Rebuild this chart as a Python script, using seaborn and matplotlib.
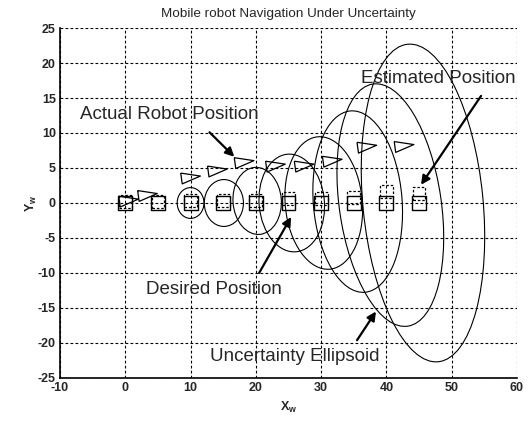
import numpy as np
import matplotlib
matplotlib.use("Agg")
import matplotlib.pyplot as plt
import seaborn as sns
import pandas as pd
from matplotlib.patches import Ellipse

# desired positions (solid squares)
desired_x = [0, 5, 10, 15, 20, 25, 30, 35, 40, 45]
desired_y = [0, 0, 0, 0, 0, 0, 0, 0, 0, 0]

# estimated positions (dashed squares)
est_x = [0, 5, 10, 15, 20, 25, 30, 35, 40, 45]
est_y = [0.2, 0.2, 0.3, 0.3, 0.4, 0.6, 0.6, 0.8, 1.6, 1.4]

# actual robot positions (triangles)
act_x = [0.5, 3.4, 10.0, 14.1, 18.2, 23.0, 27.4, 31.7, 37.0, 42.7]
act_y = [0.2, 1.0, 3.5, 4.5, 5.7, 5.2, 5.2, 5.9, 7.9, 8.0]

# uncertainty ellipses: centre, full width, full height, tilt (deg)
ell_x = [10.0, 15.1, 20.2, 25.5, 30.4, 35.6, 40.6, 45.6]
ell_y = [0.0, 0.0, 0.3, 0.0, 0.0, 0.2, -0.3, 0.0]
ell_w = [4.1, 6.0, 7.4, 10.0, 11.8, 13.6, 15.6, 18.4]
ell_h = [4.4, 6.7, 9.6, 14.0, 19.0, 26.0, 35.0, 45.6]
ell_ang = [0, 0, 5, 6, 6, 5, 9, 6]

sns.set_style("white")
plt.rcParams['font.family'] = ['Liberation Sans', 'DejaVu Sans']
plt.rcParams['axes.unicode_minus'] = False

fig = plt.figure(figsize=(5.31, 4.23), dpi=100)
ax = fig.add_axes([0.113, 0.1064, 0.8606, 0.8274])

grid_ls = (0, (2.5, 2))
for gx in range(-10, 61, 10):
    ax.axvline(gx, color='black', lw=0.8, ls=grid_ls, zorder=0)
for gy in range(-25, 26, 5):
    ax.axhline(gy, color='black', lw=0.8, ls=grid_ls, zorder=0)

for cx, cy, w, h, a in zip(ell_x, ell_y, ell_w, ell_h, ell_ang):
    ax.add_patch(Ellipse((cx, cy), w, h, angle=a, fill=False,
                         edgecolor='black', lw=0.8, zorder=2))

df_des = pd.DataFrame({'x': desired_x, 'y': desired_y})
df_est = pd.DataFrame({'x': est_x, 'y': est_y})
df_act = pd.DataFrame({'x': act_x, 'y': act_y})

sns.scatterplot(data=df_des, x='x', y='y', marker='s', s=100,
                facecolor='none', edgecolor='black', linewidth=1.0,
                ax=ax, zorder=3)
sns.scatterplot(data=df_est, x='x', y='y', marker='s', s=85,
                facecolor='none', edgecolor='black', linewidth=0.9,
                linestyle=(0, (2, 1.5)), ax=ax, zorder=3)
# right-pointing triangle, a bit stretched sideways
tri = [(-1, 0.55), (1, 0.25), (-0.85, -0.55), (-1, 0.55)]
sns.scatterplot(data=df_act, x='x', y='y', marker=tri, s=200,
                facecolor='none', edgecolor='black', linewidth=0.9,
                ax=ax, zorder=3)

arrow = dict(arrowstyle='-|>', color='black', lw=1.6,
             mutation_scale=13, shrinkA=0, shrinkB=0)
ax.annotate('', xy=(16.7, 6.6), xytext=(12.9, 10.1), arrowprops=arrow)
ax.annotate('', xy=(45.3, 2.6), xytext=(54.5, 15.3), arrowprops=arrow)
ax.annotate('', xy=(25.4, -2.0), xytext=(20.5, -10.0), arrowprops=arrow)
ax.annotate('', xy=(38.4, -15.5), xytext=(35.5, -19.6), arrowprops=arrow)

tfs = 13.5
ax.text(-7.0, 12.6, 'Actual Robot Position', fontsize=tfs, va='center')
ax.text(36.1, 17.8, 'Estimated Position', fontsize=tfs, va='center')
ax.text(24.0, -12.4, 'Desired Position', fontsize=tfs, va='center', ha='right')
ax.text(38.9, -22.0, 'Uncertainty Ellipsoid', fontsize=tfs, va='center',
        ha='right')

ax.set_xlim(-10, 60)
ax.set_ylim(-25, 25)
ax.set_xticks(range(-10, 61, 10))
ax.set_yticks(range(-25, 26, 5))
ax.tick_params(direction='in', length=3, labelsize=9, pad=3)
for lab in ax.get_xticklabels() + ax.get_yticklabels():
    lab.set_fontweight('bold')
for side in ['top', 'right']:
    ax.spines[side].set_visible(False)
for side in ['left', 'bottom']:
    ax.spines[side].set_color('black')
    ax.spines[side].set_linewidth(1.2)

ax.set_xlabel('X$_\\mathregular{w}$', fontsize=9, fontweight='bold', labelpad=4)
ax.set_ylabel('Y$_\\mathregular{w}$', fontsize=9, fontweight='bold', labelpad=-1)
ax.set_title('Mobile robot Navigation Under Uncertainty', fontsize=9.7, pad=8)

fig.savefig('out.png', dpi=100)
